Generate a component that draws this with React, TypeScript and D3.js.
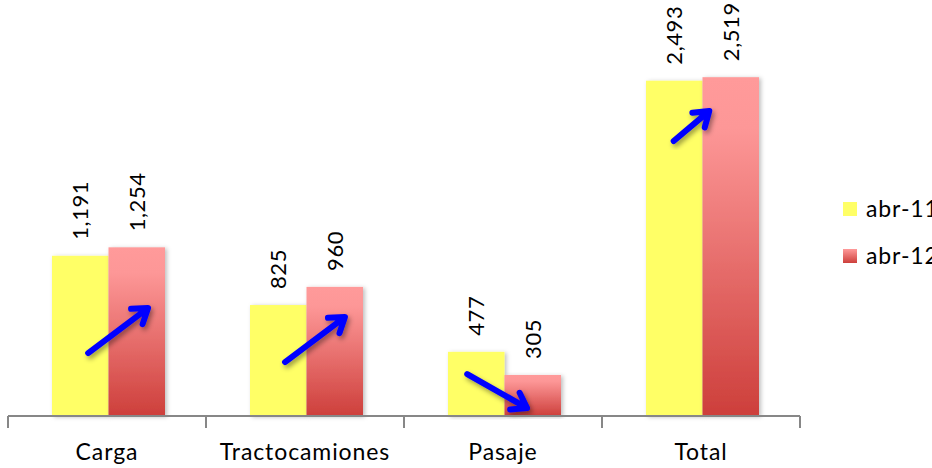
import React from "react";
import * as d3 from "d3";

const categories = ["Carga", "Tractocamiones", "Pasaje", "Total"];
const seriesNames = ["abr-11", "abr-12"];
const abr11 = [1191, 825, 477, 2493];
const abr12 = [1254, 960, 305, 2519];
// arrow annotations: [series index, fraction across bar, value]
const arrows = [
  { cat: "Carga", from: [0, 0.64, 468], to: [1, 0.7, 803] },
  { cat: "Tractocamiones", from: [0, 0.62, 401], to: [1, 0.68, 736] },
  { cat: "Pasaje", from: [0, 0.34, 312], to: [1, 0.4, 59] },
  { cat: "Total", from: [0, 0.49, 2045], to: [1, 0.12, 2268] },
];

const W = 932;
const H = 468;
const FONT = "Lato, 'Open Sans', sans-serif";

export default function App() {
  const x = d3.scaleBand<string>().domain(categories).range([8, 800]).padding(0);
  const xi = d3.scaleBand<string>().domain(seriesNames).range([44, 157]).padding(0);
  const y = d3.scaleLinear().domain([0, 3000]).range([416, 12.5]);
  const fmt = d3.format(",");
  const values = [abr11, abr12];
  const fills = ["#FFFF66", "url(#redGrad)"];

  const px = (cat: string, s: number, f: number) =>
    (x(cat) as number) + (xi(seriesNames[s]) as number) + xi.bandwidth() * f;

  return (
    <svg width={W} height={H} style={{ position: "absolute", left: 0, top: 0, background: "#fff" }}>
      <defs>
        <linearGradient id="redGrad" x1="0" y1="0" x2="0" y2="1">
          <stop offset="0" stopColor="#FF9A9A" />
          <stop offset="0.15" stopColor="#FD9797" />
          <stop offset="1" stopColor="#CD3F3B" />
        </linearGradient>
        <linearGradient id="redGradLeg" x1="0" y1="0" x2="0" y2="1">
          <stop offset="0" stopColor="#FF9A9A" />
          <stop offset="1" stopColor="#CD3F3B" />
        </linearGradient>
        <filter id="barShadow" x="-20%" y="-5%" width="140%" height="110%">
          <feDropShadow dx="2" dy="1" stdDeviation="2" floodColor="#000" floodOpacity="0.25" />
        </filter>
        <filter id="arrowShadow" x="-30%" y="-30%" width="160%" height="160%">
          <feDropShadow dx="2" dy="3" stdDeviation="2.5" floodColor="#000" floodOpacity="0.4" />
        </filter>
      </defs>

      {/* bars */}
      {categories.map((c, i) =>
        seriesNames.map((s, si) => {
          const v = values[si][i];
          return (
            <rect
              key={c + s}
              x={(x(c) as number) + (xi(s) as number)}
              y={y(v)}
              width={xi.bandwidth()}
              height={y(0) - y(v)}
              fill={fills[si]}
              filter="url(#barShadow)"
            />
          );
        })
      )}

      {/* value labels */}
      {categories.map((c, i) =>
        seriesNames.map((s, si) => {
          const v = values[si][i];
          const cx = (x(c) as number) + (xi(s) as number) + xi.bandwidth() / 2;
          const cy = y(v) - 16;
          return (
            <text
              key={"l" + c + s}
              transform={`translate(${cx},${cy}) rotate(-90)`}
              dy="0.36em"
              textAnchor="start"
              fontFamily={FONT}
              fontSize={22}
              letterSpacing={0.6}
              fill="#000"
            >
              {fmt(v)}
            </text>
          );
        })
      )}

      {/* arrows */}
      {arrows.map((a) => {
        const x1 = px(a.cat, a.from[0], a.from[1]);
        const y1 = y(a.from[2]);
        const x2 = px(a.cat, a.to[0], a.to[1]);
        const y2 = y(a.to[2]);
        const ang = Math.atan2(y2 - y1, x2 - x1);
        const L = 17;
        const spread = 0.6;
        const h1x = x2 - L * Math.cos(ang - spread);
        const h1y = y2 - L * Math.sin(ang - spread);
        const h2x = x2 - L * Math.cos(ang + spread);
        const h2y = y2 - L * Math.sin(ang + spread);
        const bx = x2 - 3 * Math.cos(ang);
        const by = y2 - 3 * Math.sin(ang);
        return (
          <g key={"a" + a.cat} filter="url(#arrowShadow)">
            <path
              d={`M${x1},${y1}L${bx},${by}M${h1x},${h1y}L${x2},${y2}L${h2x},${h2y}`}
              fill="none"
              stroke="#0000FF"
              strokeWidth={6}
              strokeLinecap="round"
              strokeLinejoin="round"
            />
          </g>
        );
      })}

      {/* axis */}
      <line x1={8} x2={800} y1={416} y2={416} stroke="#878787" strokeWidth={2} />
      {[...categories.map((c) => x(c) as number), 800].map((t, i) => (
        <line key={"t" + i} x1={t} x2={t} y1={416} y2={428} stroke="#878787" strokeWidth={2} />
      ))}
      {categories.map((c) => (
        <text
          key={"c" + c}
          x={(x(c) as number) + x.bandwidth() / 2}
          y={460}
          textAnchor="middle"
          fontFamily={FONT}
          fontSize={23}
          letterSpacing={0.9}
          fill="#000"
        >
          {c}
        </text>
      ))}

      {/* legend */}
      {seriesNames.map((s, si) => (
        <g key={"lg" + s} transform={`translate(843,${202 + si * 47})`}>
          <rect width={14} height={14} fill={si === 0 ? "#FFFF66" : "url(#redGradLeg)"} />
          <text x={23} y={15} fontFamily={FONT} fontSize={23} letterSpacing={0.9} fill="#000">
            {s}
          </text>
        </g>
      ))}
    </svg>
  );
}
